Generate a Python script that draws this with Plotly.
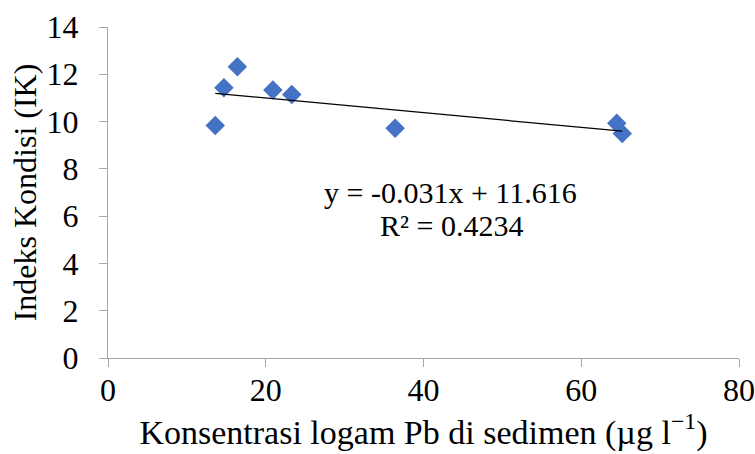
import plotly.graph_objects as go

# Pb concentration in sediment vs condition index
pb_sediment = [13.6, 14.7, 16.4, 20.9, 23.3, 36.4, 64.5, 65.2]
kondisi = [9.83, 11.43, 12.32, 11.34, 11.15, 9.72, 9.93, 9.50]

# Linear trend coefficients
slope = -0.031
intercept = 11.616
r_squared = 0.4234

x_trend = [min(pb_sediment), max(pb_sediment)]
y_trend = [slope * v + intercept for v in x_trend]

font_family = "Liberation Serif"

fig = go.Figure()
fig.add_trace(go.Scatter(
    x=pb_sediment, y=kondisi, mode="markers",
    marker=dict(symbol="diamond", size=15, color="#4472C4",
                line=dict(width=0)),
    showlegend=False,
))
fig.add_trace(go.Scatter(
    x=x_trend, y=y_trend, mode="lines",
    line=dict(color="black", width=1.3),
    showlegend=False,
))

eq_font = dict(family=font_family, size=30, color="black")
fig.add_annotation(
    x=0.542, y=0.5015, xref="paper", yref="paper",
    text=f"y = {slope}x + {intercept}",
    showarrow=False, font=eq_font,
)
fig.add_annotation(
    x=0.545, y=0.4018, xref="paper", yref="paper",
    text=f"R² = {r_squared}",
    showarrow=False, font=eq_font,
)

axis_common = dict(
    showgrid=False, zeroline=False,
    showline=True, linecolor="#A6A6A6", linewidth=1,
    ticks="outside", tickcolor="#A6A6A6", ticklen=8, tickwidth=1,
    tickfont=dict(family=font_family, size=32, color="black"),
)

fig.update_xaxes(
    range=[0, 80], tickvals=[0, 20, 40, 60, 80],
    ticklabelstandoff=-4,
    title=dict(text="Konsentrasi logam Pb di sedimen (µg l<sup>−1</sup>)",
               font=dict(family=font_family, size=34, color="black"),
               standoff=0),
    **axis_common,
)
fig.update_yaxes(
    range=[0, 14], tickvals=[0, 2, 4, 6, 8, 10, 12, 14],
    ticklabelstandoff=14,
    title=dict(text="Indeks Kondisi (IK)",
               font=dict(family=font_family, size=32, color="black"),
               standoff=0),
    **axis_common,
)

fig.update_layout(
    width=755, height=454,
    margin=dict(l=108, r=16, t=27, b=96, autoexpand=False),
    paper_bgcolor="white", plot_bgcolor="white",
)

fig.write_html("out.html")
